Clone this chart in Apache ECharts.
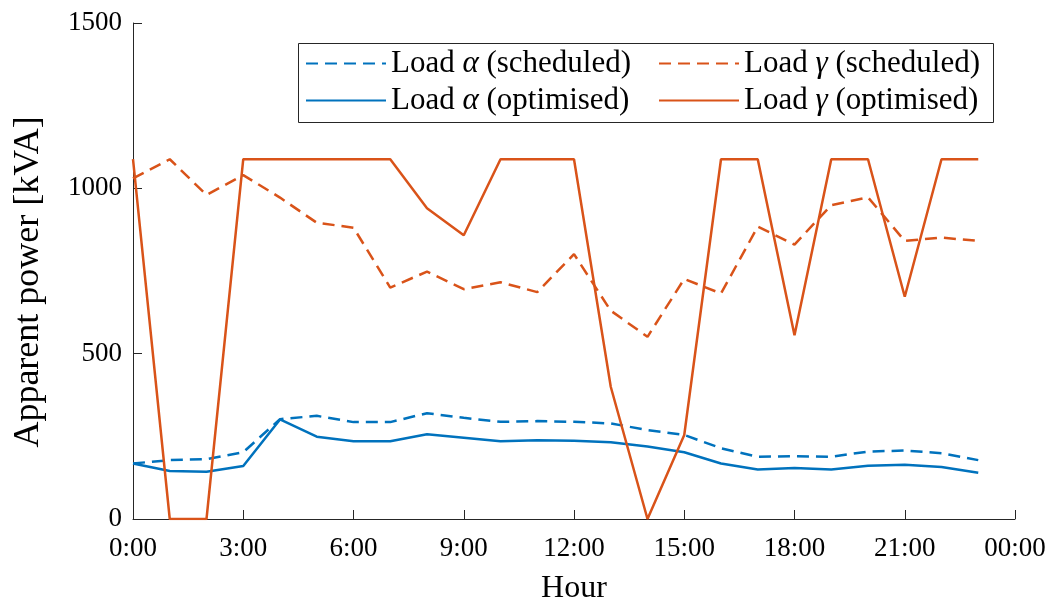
<!DOCTYPE html>
<html>
<head>
<meta charset="utf-8">
<script src="https://cdn.jsdelivr.net/npm/echarts@6/dist/echarts.min.js"></script>
<style>html,body{margin:0;padding:0;background:#fff;}#c{width:1057px;height:606px;}</style>
</head>
<body>
<div id="c"></div>
<script>
const hours = [0,1,2,3,4,5,6,7,8,9,10,11,12,13,14,15,16,17,18,19,20,21,22,23];
const alphaScheduled = [168,178,181,202,302,312,293,293,320,306,294,296,294,289,269,254,214,188,190,188,204,207,199,178];
const alphaOptimised = [168,145,143,160,301,249,235,235,256,246,235,238,237,232,219,202,168,150,154,150,161,164,157,140];
const gammaScheduled = [1030,1088,980,1040,972,896,881,700,748,695,716,686,801,630,551,726,682,884,830,949,973,841,851,841];
const gammaOptimised = [1088,0,0,1088,1088,1088,1088,1088,940,858,1088,1088,1088,400,0,254,1088,1088,556,1088,1088,672,1088,1088];
const yTicks = [0,500,1000,1500];
const xTickLabels = ['0:00','3:00','6:00','9:00','12:00','15:00','18:00','21:00','00:00'];

const FONT = 'Liberation Serif';
const BLUE = '#0072BD', ORANGE = '#D95319', AX = '#262626';
const pair = arr => hours.map((h,i)=>[h,arr[i]]);
const names = ['Load α (scheduled)','Load γ (scheduled)','Load α (optimised)','Load γ (optimised)'];
function mk(name, data, color, dashed){
  return {name, type:'line', data:pair(data), showSymbol:false, symbol:'none',
    lineStyle:{color, width:2.5, type: dashed ? [12,7] : 'solid'}, itemStyle:{color}, z: dashed?2:3};
}
const chart = echarts.init(document.getElementById('c'));
const legendCommon = {orient:'horizontal', itemWidth:80, itemHeight:14, itemGap:8,
  itemStyle:{opacity:0, borderWidth:0},
  formatter: n => n.replace(/([αγ])/, '{i|$1}'),
  textStyle:{fontFamily:FONT, fontSize:31, color:'#000',
    rich:{i:{fontFamily:FONT, fontSize:31, fontStyle:'italic', color:'#000'}}}, padding:0};
chart.setOption({
  animation:false,
  grid:{left:133, right:42, top:23, bottom:87, containLabel:false, outerBoundsMode:'none'},
  xAxis:{type:'value', min:0, max:24, interval:3,
    name:'Hour', nameLocation:'middle', nameGap:54,
    nameTextStyle:{fontFamily:FONT, fontSize:32, color:'#000'},
    axisLine:{lineStyle:{color:AX, width:1}},
    axisTick:{inside:true, length:9, lineStyle:{color:AX}},
    splitLine:{show:false},
    axisLabel:{fontFamily:FONT, fontSize:27, color:'#000', margin:16,
      formatter: v => xTickLabels[Math.round(v/3)]}},
  yAxis:{type:'value', min:yTicks[0], max:yTicks[yTicks.length-1], interval:500,
    name:'Apparent power [kVA]', nameLocation:'middle', nameGap:86,
    nameTextStyle:{fontFamily:FONT, fontSize:36, color:'#000', padding:[0,22,0,0]},
    axisLine:{show:true, lineStyle:{color:AX, width:1}},
    axisTick:{show:true, inside:true, length:9, lineStyle:{color:AX}},
    splitLine:{show:false},
    axisLabel:{fontFamily:FONT, fontSize:27, color:'#000', margin:11, formatter: v => String(v)}},
  legend:[
    Object.assign({left:305, top:48, data:[names[0]]}, legendCommon),
    Object.assign({left:658, top:48, data:[names[1]]}, legendCommon),
    Object.assign({left:305, top:85, data:[names[2]]}, legendCommon),
    Object.assign({left:658, top:85, data:[names[3]]}, legendCommon)
  ],
  graphic:[{type:'rect', left:298, top:43, shape:{width:695, height:79},
    style:{fill:'#fff', stroke:'#262626', lineWidth:1}, z:-1, silent:true}],
  series:[
    mk(names[0], alphaScheduled, BLUE, true),
    mk(names[1], gammaScheduled, ORANGE, true),
    mk(names[2], alphaOptimised, BLUE, false),
    mk(names[3], gammaOptimised, ORANGE, false)
  ]
});
</script>
</body>
</html>
